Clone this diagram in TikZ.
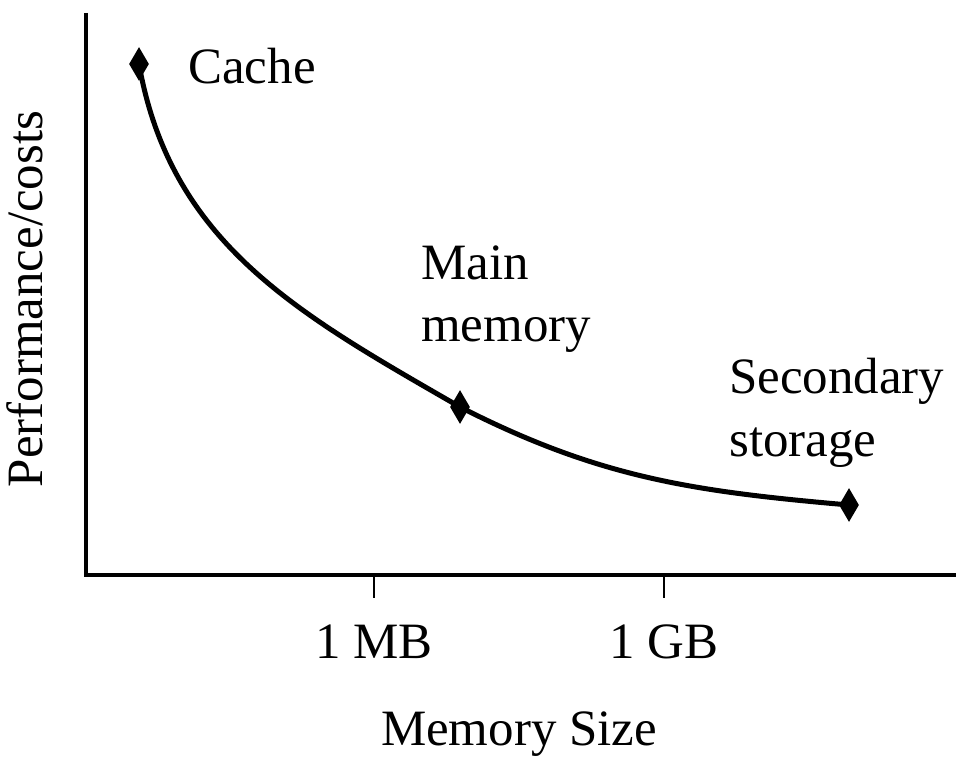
\documentclass[tikz,border=0pt]{standalone}
\usepackage{fontspec}
\setmainfont{Liberation Serif}
\usetikzlibrary{shapes.geometric}

\begin{document}
\begin{tikzpicture}[x=0.02cm,y=0.02cm,
	every node/.style={font=\fontsize{29}{35.5}\selectfont,inner sep=0pt},
	marker/.style={diamond,fill=black,minimum width=0.4cm,minimum height=0.68cm,aspect=0.6},
	axis/.style={line width=0.08cm},
	tick/.style={line width=0.045cm},
	curve/.style={line width=0.1cm}]
	\useasboundingbox (0,0) rectangle (956,758);
	\coordinate (origin) at (86,183);
	\coordinate (ytop) at (86,745);
	\coordinate (xend) at (956,183);
	\coordinate (mb) at (374,183);
	\coordinate (gb) at (664,183);
	\draw[axis] (ytop) -- (origin) -- (xend);
	\draw[tick] (mb) -- ++(0,-23);
	\draw[tick] (gb) -- ++(0,-23);
	\node[anchor=base] (mblabel) at (374,100) {1 MB};
	\node[anchor=base] (gblabel) at (664,100) {1 GB};
	\node[anchor=base] (xlabel) at (519,13) {Memory Size};
	\node[anchor=base,rotate=90] (ylabel) at (42,459) {Performance/costs};
	\node[marker] (cache) at (139,694) {};
	\node[marker] (main) at (460,351) {};
	\node[marker] (secondary) at (849,253) {};
	\draw[curve] (cache.center) to[out=-80,in=150] (main.center)
		to[out=-27,in=175] (secondary.center);
	\node[anchor=base west] (cachelabel) at (188,674) {Cache};
	\node[anchor=north west,align=left] (mainlabel) at (421,513) {Main\\memory};
	\node[anchor=north west,align=left] (secondarylabel) at (729,400) {Secondary\\storage};
\end{tikzpicture}
\end{document}
